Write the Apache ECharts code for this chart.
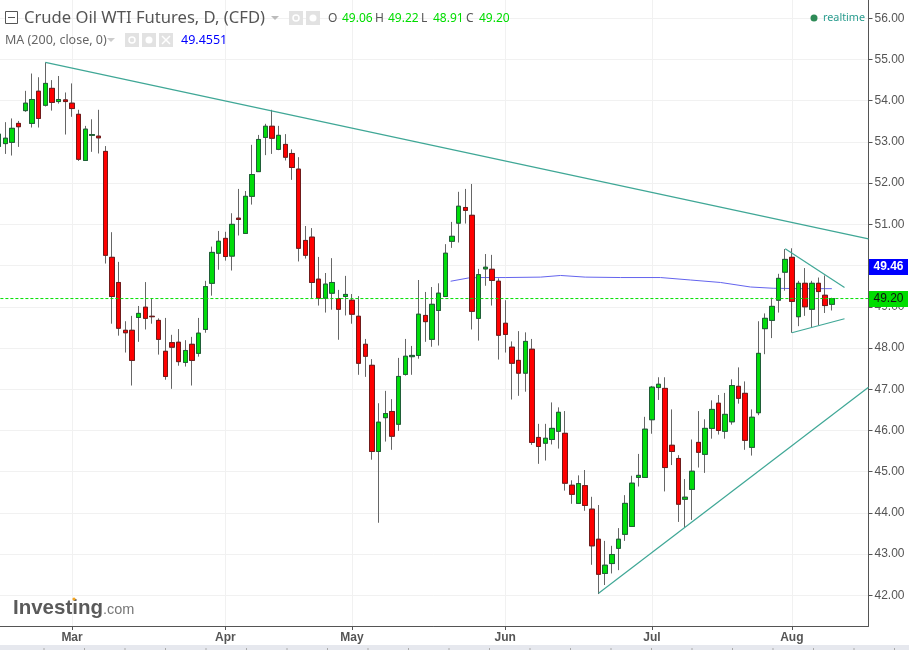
<!DOCTYPE html>
<html>
<head>
<meta charset="utf-8">
<title>Crude Oil WTI Futures</title>
<script src="https://cdn.jsdelivr.net/npm/echarts@6/dist/echarts.min.js"></script>
<style>
  html, body { margin: 0; padding: 0; background: #fff; }
  #chart { width: 909px; height: 650px; }
</style>
</head>
<body>
<div id="chart"></div>
<script>
// daily candles
const opens = [52.89,52.96,52.99,53.45,53.76,53.45,54.23,53.89,54.30,53.98,54.02,53.94,53.67,52.55,53.16,53.14,52.77,50.20,49.59,48.43,48.43,48.74,48.99,48.77,48.67,47.92,48.13,48.14,47.65,48.09,47.87,48.45,49.57,50.30,
  50.66,50.23,51.15,50.78,51.68,52.28,53.11,53.38,52.82,52.94,52.72,52.34,50.61,50.69,49.67,49.21,49.33,49.20,49.25,49.16,
  48.77,48.09,47.58,45.49,46.31,46.46,46.15,47.36,47.79,47.82,48.79,48.21,48.91,49.25,50.59,51.03,51.41,51.22,48.72,49.92,49.91,49.62,48.60,48.02,47.70,47.39,47.97,45.83,45.69,45.78,45.98,45.93,
  44.67,44.23,44.66,44.09,43.36,42.53,42.77,43.14,43.48,43.67,44.86,44.86,46.26,47.04,47.02,45.64,45.32,44.33,44.57,45.71,45.42,46.05,46.66,45.98,46.21,47.07,46.90,45.59,
  46.43,48.47,48.67,49.16,49.84,50.20,48.76,49.57,48.94,49.57,49.28,49.06];
const closes = [53.19,53.09,53.33,53.37,53.94,54.03,53.57,54.42,53.96,54.03,53.98,53.81,52.58,53.31,53.18,53.10,50.25,49.25,48.48,48.37,47.70,48.84,48.72,48.76,48.21,47.31,48.02,47.67,47.94,47.70,48.36,49.49,50.32,50.59,
  50.22,51.00,51.12,51.68,52.21,53.06,53.38,53.09,53.16,52.63,52.38,50.42,50.25,49.59,49.21,49.55,49.59,48.94,49.30,48.82,
  47.63,47.80,45.49,46.20,46.41,45.86,47.31,47.80,47.82,48.82,48.64,49.06,49.33,50.30,50.71,51.44,51.34,48.89,49.78,49.96,49.64,48.31,48.33,47.63,47.39,48.16,45.71,45.61,45.81,46.05,46.44,44.72,
  44.45,44.71,44.18,43.20,42.51,42.73,42.99,43.36,44.23,44.72,44.91,46.03,47.05,47.12,45.10,45.49,44.21,44.38,45.01,45.47,46.05,46.51,46.00,46.39,47.09,46.78,45.76,46.32,
  47.87,48.72,49.01,49.69,50.15,49.13,49.57,49.00,49.57,49.37,49.03,49.20];
const lows = [52.85,52.71,52.67,52.88,53.73,53.35,53.35,53.86,53.76,53.93,53.18,53.61,52.54,52.55,52.76,52.72,50.05,48.59,48.30,47.89,47.09,48.15,48.45,48.59,47.84,47.23,47.01,47.57,47.55,47.09,47.79,48.37,49.27,49.90,
  50.12,49.88,50.73,50.78,51.48,52.28,52.68,52.71,52.80,52.55,52.08,50.10,50.17,49.21,49.03,48.86,48.93,48.20,48.79,48.59,
  47.35,47.30,45.29,43.76,45.73,45.53,45.99,47.33,47.35,47.74,48.15,48.03,48.06,49.25,50.43,50.56,51.02,48.45,48.18,49.51,49.03,47.72,47.89,46.75,46.84,46.94,45.65,45.19,45.27,45.66,45.56,44.54,
  44.22,44.23,44.05,42.74,42.03,42.25,42.53,42.61,43.32,43.67,44.64,44.86,45.92,46.74,44.52,45.16,43.78,43.65,43.83,45.10,44.97,45.80,45.90,45.80,46.14,46.65,45.53,45.39,
  46.37,47.85,48.24,48.86,49.39,48.37,48.53,48.78,48.49,48.55,48.85,48.91];
const highs = [53.25,53.48,53.57,53.51,54.24,54.66,54.57,54.93,54.50,54.60,54.20,54.42,53.78,53.39,53.55,53.78,52.90,50.81,50.09,48.65,48.78,49.02,49.60,49.21,48.72,48.73,48.32,48.46,48.19,48.27,48.73,49.63,50.46,50.84,
  50.82,51.27,51.86,51.81,52.93,53.17,53.44,53.78,53.39,53.19,52.82,52.63,50.96,50.91,50.21,49.82,50.18,49.41,49.75,49.31,
  49.26,48.22,47.73,46.66,46.96,46.76,47.76,48.22,48.05,49.65,49.36,49.48,49.57,50.52,51.06,51.79,51.86,51.98,49.92,50.28,50.26,49.69,49.16,48.16,48.41,48.38,48.22,46.16,46.16,46.68,46.56,46.47,
  44.79,44.91,45.04,44.39,44.19,43.32,43.20,43.63,44.43,44.90,45.43,46.33,47.08,47.29,47.29,46.51,45.40,44.82,45.78,46.47,46.27,46.73,46.86,46.91,47.24,47.53,47.19,46.51,
  48.65,48.84,49.22,49.80,50.40,50.42,49.63,49.94,49.63,49.71,49.76,49.22];

const slotCount = 131;
const monthLabels = ['Mar', 'Apr', 'May', 'Jun', 'Jul', 'Aug'];
const monthSlots = [11, 34, 53, 76, 98, 119];
const priceTicks = [42, 43, 44, 45, 46, 47, 48, 49, 50, 51, 52, 53, 54, 55, 56];

const maLine = [[67.8,49.62],[70.5,49.70],[72.3,49.71],[76,49.71],[81.3,49.72],[84.3,49.76],[88,49.72],[93.3,49.71],[99.3,49.71],[103.8,49.65],[108.3,49.59],[112.8,49.48],[116.2,49.45],[120.3,49.44],[125,49.44]];
const topTrend = [[7,54.93],[130.5,50.65]];
const bottomTrend = [[90,42.05],[130.5,47.05]];
const flagUpper = [[118,50.41],[126.9,49.47]];
const flagLower = [[119,48.37],[126.9,48.71]];
const lastPrice = 49.20;

const slots = [];
for (let i = 0; i < slotCount; i++) {
  const m = monthSlots.indexOf(i);
  slots.push(m >= 0 ? monthLabels[m] : 'd' + i);
}
const isMonth = function (index) { return monthSlots.indexOf(index) >= 0; };

const wicks = opens.map((o, i) => [o, closes[i], lows[i], highs[i]]);
const bodies = opens.map((o, i) => [o, closes[i], Math.min(o, closes[i]), Math.max(o, closes[i])]);

function trend(points, color, extra) {
  return Object.assign({
    type: 'line',
    xAxisIndex: 1,
    yAxisIndex: 0,
    data: points,
    symbol: 'none',
    silent: true,
    animation: false,
    lineStyle: { color: color, width: 1.2 },
    z: 5
  }, extra || {});
}

function headerText(text, x, y, color, font) {
  return { type: 'text', z: 100, x: x, y: y, style: { text: text, fill: color, font: font, textVerticalAlign: 'middle' } };
}
function iconBox(x, y, size) {
  return { type: 'rect', z: 100, shape: { x: x, y: y, width: size, height: size }, style: { fill: '#e2e2e2' } };
}

const headFont = '16.6px "Noto Sans"';
const ohlcFont = '12px "Noto Sans"';
const ohlcGreen = '#00dd00';
const graphics = [
  { type: 'rect', z: 100, shape: { x: 5.5, y: 11.5, width: 12, height: 12 }, style: { fill: '#fff', stroke: '#555' } },
  { type: 'line', z: 101, shape: { x1: 8, y1: 17.5, x2: 15, y2: 17.5 }, style: { stroke: '#555' } },
  headerText('Crude Oil WTI Futures, D, (CFD)', 24, 18, '#555', headFont),
  { type: 'polygon', z: 100, shape: { points: [[271, 16], [279, 16], [275, 20]] }, style: { fill: '#bbb' } },
  iconBox(289, 11, 14), iconBox(306, 11, 14),
  { type: 'circle', z: 101, shape: { cx: 296, cy: 18, r: 3 }, style: { fill: 'none', stroke: '#fff', lineWidth: 1.5 } },
  { type: 'circle', z: 101, shape: { cx: 313, cy: 18, r: 3.5 }, style: { fill: '#fff' } },
  headerText('O', 328, 19, '#555', ohlcFont), headerText('49.06', 342, 19, ohlcGreen, ohlcFont),
  headerText('H', 375, 19, '#555', ohlcFont), headerText('49.22', 388, 19, ohlcGreen, ohlcFont),
  headerText('L', 421, 19, '#555', ohlcFont), headerText('48.91', 433, 19, ohlcGreen, ohlcFont),
  headerText('C', 466, 19, '#555', ohlcFont), headerText('49.20', 479, 19, ohlcGreen, ohlcFont),

  headerText('MA (200, close, 0)', 5, 40, '#666', '12.5px "Noto Sans"'),
  { type: 'polygon', z: 100, shape: { points: [[107, 38], [115, 38], [111, 42]] }, style: { fill: '#ccc' } },
  iconBox(125, 33, 14), iconBox(142, 33, 14), iconBox(159, 33, 14),
  { type: 'circle', z: 101, shape: { cx: 132, cy: 40, r: 3 }, style: { fill: 'none', stroke: '#fff', lineWidth: 1.5 } },
  { type: 'circle', z: 101, shape: { cx: 149, cy: 40, r: 3.5 }, style: { fill: '#fff' } },
  { type: 'line', z: 101, shape: { x1: 162, y1: 36, x2: 170, y2: 44 }, style: { stroke: '#fff', lineWidth: 1.5 } },
  { type: 'line', z: 101, shape: { x1: 170, y1: 36, x2: 162, y2: 44 }, style: { stroke: '#fff', lineWidth: 1.5 } },
  headerText('49.4551', 181, 40, '#0000ff', '12.5px "Noto Sans"'),

  { type: 'circle', z: 100, shape: { cx: 814, cy: 18, r: 3.5 }, style: { fill: '#2e8b57' } },
  headerText('realtime', 823, 18, '#2a9d8f', '10.8px "Noto Sans"'),

  // price boxes on the axis
  { type: 'rect', z: 100, shape: { x: 869, y: 259, width: 39, height: 16 }, style: { fill: '#0000ff' } },
  { type: 'text', z: 101, x: 888.5, y: 267, style: { text: '49.46', fill: '#fff', font: 'bold 12px "Liberation Sans"', textAlign: 'center', textVerticalAlign: 'middle' } },
  { type: 'rect', z: 100, shape: { x: 869, y: 291, width: 39, height: 16 }, style: { fill: '#00dd00' } },
  { type: 'text', z: 101, x: 888.5, y: 299, style: { text: '49.20', fill: '#111', font: '12px "Liberation Sans"', textAlign: 'center', textVerticalAlign: 'middle' } },

  // logo
  headerText('Investing', 13, 608, '#5a5a5a', 'bold 20.5px "Liberation Sans"'),
  headerText('.com', 103, 610, '#777', '14.5px "Liberation Sans"'),
  { type: 'circle', z: 101, shape: { cx: 74, cy: 599, r: 1.6 }, style: { fill: '#f5a623' } },

  // strip at the bottom of the window
  { type: 'rect', z: 100, shape: { x: 0, y: 645, width: 909, height: 5 }, style: { fill: '#e6e8ee' } }
];
for (let x = 44; x < 909; x += 40.5) {
  graphics.push({ type: 'line', z: 101, shape: { x1: x, y1: 648, x2: x, y2: 650 }, style: { stroke: '#aaa' } });
}

const myChart = echarts.init(document.getElementById('chart'), null, { renderer: 'canvas' });
myChart.setOption({
  animation: false,
  backgroundColor: '#fff',
  grid: { left: -4.6, right: 40.5, top: 0, bottom: 24, outerBoundsMode: 'none' },
  xAxis: [{
    type: 'category',
    data: slots,
    boundaryGap: true,
    axisLine: { show: true, onZero: false, lineStyle: { color: '#555', width: 1 } },
    axisTick: { show: true, alignWithLabel: true, interval: isMonth, length: 4, lineStyle: { color: '#555' } },
    axisLabel: { interval: isMonth, color: '#555', fontSize: 12, fontWeight: 'bold', fontFamily: 'Liberation Sans', margin: 6 },
    splitLine: { show: true, interval: isMonth, alignWithLabel: true, lineStyle: { color: '#f1f1f1', width: 1 } }
  }, {
    type: 'value',
    show: false,
    min: -0.5,
    max: slotCount - 0.5,
    splitLine: { show: false }
  }],
  yAxis: [{
    type: 'value',
    position: 'right',
    min: 41.255,
    max: 56.444,
    axisLine: { show: true, onZero: false, lineStyle: { color: '#555', width: 1 } },
    axisTick: { show: true, length: 4, customValues: priceTicks, lineStyle: { color: '#555' } },
    axisLabel: { customValues: priceTicks, color: '#555', fontSize: 12, fontFamily: 'Liberation Sans', margin: 6, formatter: v => v.toFixed(2) },
    splitLine: { show: true, lineStyle: { color: '#f1f1f1', width: 1 } }
  }],
  series: [
    trend(maLine, '#6464ee', { lineStyle: { color: '#6464ee', width: 1 }, z: 1 }),
    {
      type: 'candlestick',
      data: wicks,
      barWidth: 5,
      silent: true,
      z: 2,
      itemStyle: { color: '#666', color0: '#666', borderColor: '#666', borderColor0: '#666', borderWidth: 1 }
    },
    {
      type: 'candlestick',
      data: bodies,
      barWidth: 5,
      silent: true,
      z: 3,
      itemStyle: { color: '#00dc0a', color0: '#ff0000', borderColor: '#1f5f38', borderColor0: '#701a1a', borderWidth: 1 }
    },
    trend(topTrend, '#3fa796'),
    trend(bottomTrend, '#3fa796'),
    trend(flagUpper, '#3fa796'),
    trend(flagLower, '#3fa796'),
    trend([[-0.5, lastPrice], [slotCount - 0.5, lastPrice]], '#00e000', { lineStyle: { color: '#00e000', width: 1, type: [3, 2] }, z: 6 })
  ],
  graphic: graphics
});
</script>
</body>
</html>
